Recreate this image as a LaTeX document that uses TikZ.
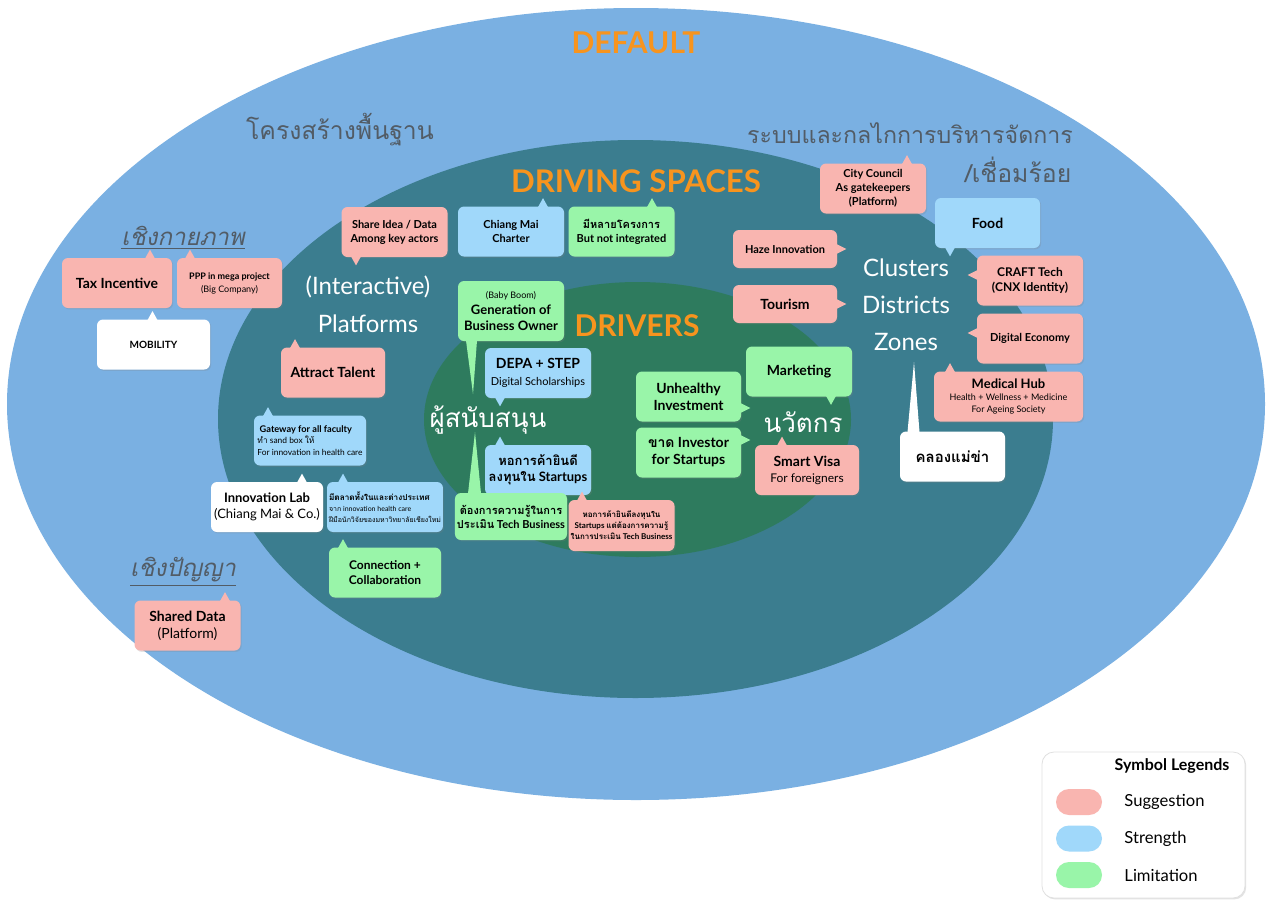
\documentclass[tikz,border=0pt]{standalone}
\usepackage{fontspec}
\setmainfont{Lato}
\newfontfamily\thaifont[Script=Thai]{Loma}
\usepackage{tikz}
\usetikzlibrary{calc, positioning, shadows}

\definecolor{outerblue}{HTML}{7AB0E2}
\definecolor{spaceteal}{HTML}{3B7D8F}
\definecolor{drivegreen}{HTML}{2E7B5E}
\definecolor{titleorange}{HTML}{F7941E}
\definecolor{headgray}{HTML}{525C66}
\definecolor{suggpink}{HTML}{F9B5B0}
\definecolor{strongblue}{HTML}{A0D8FA}
\definecolor{limitgreen}{HTML}{99F5A9}

\newcommand{\fsz}[2]{\fontsize{#1pt}{#2pt}\selectfont}
% small pointers on the boxes: colour, node, offset
\newcommand{\tipN}[3]{\fill[#1] ($(#2.north)+(#3-5,1)$) -- ($(#2.north)+(#3,-8)$) -- ($(#2.north)+(#3+5,1)$) -- cycle;}
\newcommand{\tipS}[3]{\fill[#1] ($(#2.south)+(#3-5,-1)$) -- ($(#2.south)+(#3,8)$) -- ($(#2.south)+(#3+5,-1)$) -- cycle;}
\newcommand{\tipE}[3]{\fill[#1] ($(#2.east)+(-1,#3-5)$) -- ($(#2.east)+(9,#3)$) -- ($(#2.east)+(-1,#3+5)$) -- cycle;}
\newcommand{\tipW}[3]{\fill[#1] ($(#2.west)+(1,#3-5)$) -- ($(#2.west)+(-9,#3)$) -- ($(#2.west)+(1,#3+5)$) -- cycle;}

\begin{document}
\begin{tikzpicture}[x=0.5pt, y=-0.5pt,
        box/.style={rectangle, rounded corners=3pt, inner sep=1pt, align=center, minimum width=53pt, minimum height=25pt,
            drop shadow={shadow xshift=0.6pt, shadow yshift=-0.7pt, opacity=0.22}},
        sugg/.style={box, fill=suggpink},
        strong/.style={box, fill=strongblue},
        limit/.style={box, fill=limitgreen},
        plain/.style={box, fill=white},
        title/.style={text=titleorange, font=\bfseries\fsz{15}{18}},
        head/.style={text=headgray, font=\thaifont\fsz{13}{15}},
        whitetext/.style={text=white, font=\fsz{12}{14}},
        pill/.style={rectangle, rounded corners=6.5pt, minimum width=23pt, minimum height=13pt}
    ]
        \useasboundingbox (0,0) rectangle (1268,900);
        \fill[white] (0,0) rectangle (1268,900);

        % Rings
        \fill[outerblue] (636,404) ellipse [x radius=314.5pt, y radius=198pt];
        \fill[spaceteal] (635.5,419) ellipse [x radius=208.75pt, y radius=139.5pt];
        \fill[drivegreen] (637.5,419.5) ellipse [x radius=106.75pt, y radius=68.75pt];

        % Titles
        \node[title] (default) at (636,43) {DEFAULT};
        \node[title, font=\bfseries\fsz{15.6}{19}] (spaces) at (636,181) {DRIVING SPACES};
        \node[title] (drivers) at (637,326) {DRIVERS};

        \node[head, font=\thaifont\fsz{12.4}{15}] (infra) at (340,130) {โครงสร้างพื้นฐาน};
        \node[head, font=\thaifont\fsz{11.6}{15}] (mgmt) at (910,133) {ระบบและกลไกการบริหารจัดการ};
        \node[head, font=\thaifont\fsz{12.4}{15}] (link) at (1018,170) {/เชื่อมร้อย};
        \node[head, font=\thaifont\itshape\fsz{12}{14}] (phys) at (183,238) {\underline{เชิงกายภาพ}};
        \node[head, font=\thaifont\itshape\fsz{12}{14}] (intel) at (183,572) {\underline{เชิงปัญญา}};

        \node[whitetext] (inter) at (368,287) {(Interactive)};
        \node[whitetext] (platf) at (368,324) {Platforms};
        \node[whitetext, font=\thaifont\fsz{13}{15}] (sup) at (488,420) {ผู้สนับสนุน};
        \node[whitetext, font=\thaifont\fsz{13}{15}] (innov) at (803,422) {นวัตกร};
        \node[whitetext] (clus) at (906,268) {Clusters};
        \node[whitetext] (dist) at (906,305) {Districts};
        \node[whitetext] (zone) at (906,342) {Zones};

        % Long pointers end here
        \coordinate (suptop) at (473,394);
        \coordinate (supbot) at (475,432);
        \coordinate (zonebot) at (914,362);

        % Physical side
        \node[sugg, minimum width=55pt, font=\bfseries\fsz{7}{8}] (tax) at (117,283) {Tax Incentive};
        \node[sugg, minimum width=52.5pt, font=\fsz{4.5}{6.5}] (ppp) at (229.5,283) {\textbf{PPP in mega project}\\(Big Company)};
        \node[plain, minimum width=56.5pt, font=\bfseries\fsz{5}{6}] (mobility) at (153.5,344.5) {MOBILITY};

        % Platforms
        \node[sugg, font=\bfseries\fsz{5.5}{7}] (share) at (394.5,232) {Share Idea / Data\\Among key actors};
        \node[strong, font=\bfseries\fsz{5.5}{7}] (charter) at (511,231.5) {Chiang Mai\\Charter};
        \node[limit, font=\bfseries\fsz{5.5}{7}] (many) at (621.5,231.5) {{\thaifont มีหลายโครงการ}\\But not integrated};
        \node[sugg, minimum width=52pt, font=\bfseries\fsz{7}{8}] (talent) at (333,372.5) {Attract Talent};
        \node[strong, minimum width=56pt, align=left, font=\fsz{4.2}{5.6}] (gateway) at (310,440.5) {{\bfseries\fsz{4.6}{5.6}~Gateway for all faculty}\\{\thaifont ทำ} sand box {\thaifont ให้}\\For innovation in health care};
        \node[plain, minimum width=56pt, font=\fsz{6.5}{8}] (lab) at (267,507) {\textbf{Innovation Lab}\\(Chiang Mai \& Co.)};
        \node[strong, minimum width=56pt, align=left, font=\fsz{3.5}{5.6}] (market) at (385,507) {{\thaifont\bfseries\fsz{4.1}{5.6}มีตลาดทั้งในและต่างประเทศ}\\{\thaifont จาก} innovation health care\\{\thaifont ฝีมือนักวิจัยของมหาวิทยาลัยเชียงใหม่}};
        \node[limit, minimum width=56pt, font=\bfseries\fsz{6}{7.5}] (connect) at (385,572.5) {Connection +\\Collaboration};
        \node[sugg, font=\fsz{7}{8.5}] (shared) at (187.5,625.5) {\textbf{Shared Data}\\(Platform)};

        % Supporters
        \node[limit, minimum height=30pt, font=\bfseries\fsz{6.5}{8}] (genbiz) at (511,311) {{\mdseries\fsz{4.5}{6}(Baby Boom)}\\Generation of\\Business Owner};
        \node[strong, font=\fsz{5.5}{8.5}] (depa) at (538,373) {{\bfseries\fsz{7}{8.5}DEPA + STEP}\\Digital Scholarships};
        \node[strong, font=\bfseries\fsz{6.5}{8}] (chamber) at (538,470) {{\thaifont หอการค้ายินดี}\\{\thaifont ลงทุนใน} Startups};
        \node[limit, minimum height=23.5pt, font=\bfseries\fsz{5.5}{7}] (knowhow) at (511,516.5) {{\thaifont ต้องการความรู้ในการ}\\{\thaifont ประเมิน} Tech Business};
        \node[sugg, minimum height=25.5pt, font=\bfseries\fsz{4}{5.5}] (chamber2) at (621.5,525.5) {{\thaifont หอการค้ายินดีลงทุนใน}\\Startups {\thaifont แต่ต้องการความรู้}\\{\thaifont ในการประเมิน} Tech Business};
        \fill[limitgreen] ($(genbiz.south)+(-45,-1)$) -- (suptop) -- ($(genbiz.south)+(-34,-1)$) -- cycle;
        \fill[limitgreen] ($(knowhow.north)+(-43,1)$) -- (supbot) -- ($(knowhow.north)+(-30,1)$) -- cycle;

        % Innovators
        \node[limit, minimum width=52.5pt, font=\bfseries\fsz{7}{8.5}] (unhealthy) at (688.5,396.5) {Unhealthy\\Investment};
        \node[limit, minimum width=52.5pt, font=\bfseries\fsz{7}{8.5}] (noinvestor) at (688.5,452.5) {{\thaifont ขาด} Investor\\for Startups};
        \node[limit, font=\bfseries\fsz{7}{8.5}] (marketing) at (799,371.5) {Marketing};
        \node[sugg, minimum width=52pt, font=\fsz{6}{8}] (visa) at (807,470) {{\bfseries\fsz{7}{8}Smart Visa}\\For foreigners};

        % Clusters
        \node[sugg, font=\bfseries\fsz{5.5}{7}] (council) at (873,188.5) {City Council\\As gatekeepers\\(Platform)};
        \node[strong, minimum width=52.5pt, font=\bfseries\fsz{7}{8.5}] (food) at (987.5,223) {Food};
        \node[sugg, minimum width=52pt, minimum height=19pt, font=\bfseries\fsz{5.5}{7}] (haze) at (785,249) {Haze Innovation};
        \node[sugg, minimum width=52pt, minimum height=19pt, font=\bfseries\fsz{7}{8.5}] (tourism) at (785,304) {Tourism};
        \node[sugg, font=\bfseries\fsz{6}{7.5}] (craft) at (1030,280.5) {CRAFT Tech\\(CNX Identity)};
        \node[sugg, font=\bfseries\fsz{5.5}{7}] (digital) at (1030,338.5) {Digital Economy};
        \node[sugg, minimum width=74.5pt, font=\fsz{4.5}{6}] (medical) at (1008.5,396.5) {{\bfseries\fsz{6.5}{6}Medical Hub}\\Health + Wellness + Medicine\\For Ageing Society};
        \node[plain, minimum width=52.5pt, font=\thaifont\bfseries\fsz{7.5}{9}] (khlong) at (952.5,456.5) {คลองแม่ข่า};
        \fill[white] ($(khlong.north)+(-45,1)$) -- (zonebot) -- ($(khlong.north)+(-33,1)$) -- cycle;

        % Pointers
        \tipN{suggpink}{tax}{33}
        \tipN{suggpink}{ppp}{-39.5}
        \tipN{white}{mobility}{-1}
        \tipS{suggpink}{share}{-38.5}
        \tipN{strongblue}{charter}{32}
        \tipN{limitgreen}{many}{30.5}
        \tipN{suggpink}{talent}{-38}
        \tipN{strongblue}{gateway}{-42}
        \tipN{white}{lab}{35}
        \tipN{strongblue}{market}{-42}
        \tipN{limitgreen}{connect}{-42}
        \tipN{suggpink}{shared}{37.5}
        \tipS{strongblue}{depa}{-38}
        \tipN{strongblue}{chamber}{-38}
        \tipN{suggpink}{chamber2}{-39.5}
        \tipE{limitgreen}{unhealthy}{11.5}
        \tipE{limitgreen}{noinvestor}{-12.5}
        \tipS{limitgreen}{marketing}{32}
        \tipN{suggpink}{visa}{-25}
        \tipN{suggpink}{council}{34}
        \tipS{strongblue}{food}{-37.5}
        \tipE{suggpink}{haze}{0}
        \tipE{suggpink}{tourism}{0}
        \tipW{suggpink}{craft}{-5.5}
        \tipW{suggpink}{digital}{-5.5}
        \tipN{suggpink}{medical}{-58.5}

        % Legend
        \node[box, fill=white, draw=black!12, rounded corners=6pt, minimum width=101.5pt, minimum height=73pt] (legend) at (1143.5,825) {};
        \node[font=\bfseries\fsz{8}{9}] (legtitle) at (1172,766) {Symbol Legends};
        \node[pill, fill=suggpink] (pillsugg) at (1079,802) {};
        \node[pill, fill=strongblue] (pillstrong) at (1079,838.5) {};
        \node[pill, fill=limitgreen] (pilllimit) at (1079,875) {};
        \node[font=\fsz{8.3}{9.5}, right=7.5pt of pillsugg] (legsugg) {Suggestion};
        \node[font=\fsz{8.3}{9.5}, right=7.5pt of pillstrong] (legstrong) {Strength};
        \node[font=\fsz{8.3}{9.5}, right=7.5pt of pilllimit] (leglimit) {Limitation};
    \end{tikzpicture}
\end{document}
